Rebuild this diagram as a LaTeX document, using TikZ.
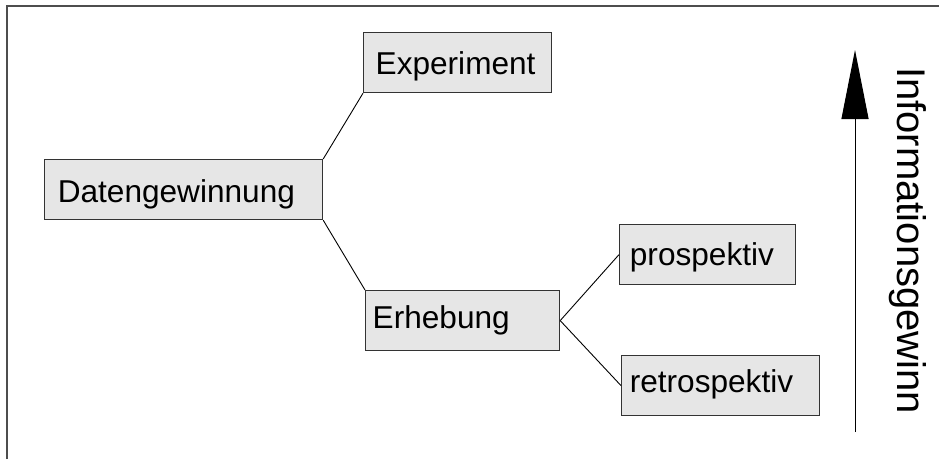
\documentclass[tikz,border=0pt]{standalone}
\usepackage{fontspec}
\setmainfont{Liberation Sans}
\usetikzlibrary{arrows.meta}
\definecolor{boxfill}{HTML}{E6E6E6}
\definecolor{boxline}{HTML}{333333}
\definecolor{framecol}{HTML}{4D4D4D}
\tikzset{
  box/.style={rectangle, draw=boxline, fill=boxfill, line width=1.2pt, inner sep=0pt, anchor=north west},
  lbl/.style={inner sep=0pt, anchor=base west, font=\fontsize{31.6}{38}\selectfont},
  conn/.style={draw=black, line width=0.9pt},
}
\begin{document}
\begin{tikzpicture}[x=1pt,y=-1pt]
\useasboundingbox (0,0) rectangle (939,459);
% frame
\draw[framecol, line width=2pt] (7,459) -- (7,6) -- (939,6);
% boxes
\node[box, minimum width=278pt, minimum height=60pt] (dat) at (44,159) {};
\node[box, minimum width=188pt, minimum height=60pt] (exp) at (363,32) {};
\node[box, minimum width=194pt, minimum height=60pt] (erh) at (365,290) {};
\node[box, minimum width=176pt, minimum height=60pt] (pro) at (619,224) {};
\node[box, minimum width=198pt, minimum height=60pt] (ret) at (621,355) {};
% labels
\node[lbl] (datt) at (57.6,202) {Datengewinnung};
\node[lbl] (expt) at (375.5,74.3) {Experiment};
\node[lbl] (erht) at (372.5,328.3) {Erhebung};
\node[lbl] (prot) at (629.7,265) {prospektiv};
\node[lbl] (rett) at (629.6,392.7) {retrospektiv};
% connectors
\draw[conn] (dat.north east) -- (exp.south west);
\draw[conn] (dat.south east) -- (erh.north west);
\draw[conn] (erh.east) -- (pro.west);
\draw[conn] (erh.east) -- (ret.west);
% arrow
\coordinate (abot) at (855,432);
\coordinate (atop) at (855,50);
\draw[line width=1pt, -{Triangle[length=69pt, width=27pt]}] (abot) -- (atop);
\node[inner sep=0pt, anchor=base west, rotate=-90, font=\fontsize{40}{48}\selectfont] (info) at (897,67) {Informationsgewinn};
\end{tikzpicture}
\end{document}
